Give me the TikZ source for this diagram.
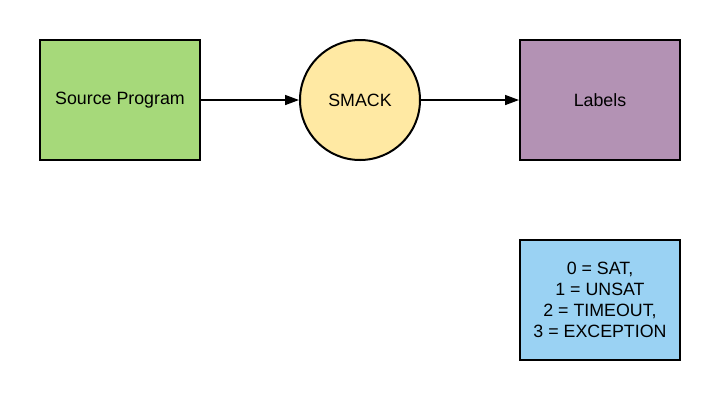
\documentclass[tikz,border=0pt]{standalone}
\usepackage{fontspec}
\setmainfont{Liberation Sans}
\usetikzlibrary{arrows.meta}
\definecolor{cgreen}{HTML}{A6D97A}
\definecolor{cyellow}{HTML}{FFE9A3}
\definecolor{cpurple}{HTML}{B392B4}
\definecolor{cblue}{HTML}{9AD2F3}
\tikzset{
  box/.style={draw=black, line width=2pt, minimum width=160pt, minimum height=120pt, inner sep=0pt, align=center, font=\fontsize{17.8}{21}\selectfont},
  circ/.style={circle, draw=black, line width=2pt, minimum size=120pt, inner sep=0pt, font=\fontsize{17.8}{21}\selectfont},
  conn/.style={line width=1.5pt, -{Triangle[length=14pt,width=10pt]}}
}
\begin{document}
\begin{tikzpicture}[x=1pt,y=-1pt]
\useasboundingbox (0,0) rectangle (720,400);
\node[box, fill=cgreen] (src) at (120,100) {Source Program};
\node[circ, fill=cyellow] (smack) at (360,100) {SMACK};
\node[box, fill=cpurple] (lab) at (600,100) {Labels};
\node[box, fill=cblue] (codes) at (600,300) {0 = SAT,\\1 = UNSAT\\2 = TIMEOUT,\\3 = EXCEPTION};
\draw[conn] (src) -- (smack);
\draw[conn] (smack) -- (lab);
\end{tikzpicture}
\end{document}
